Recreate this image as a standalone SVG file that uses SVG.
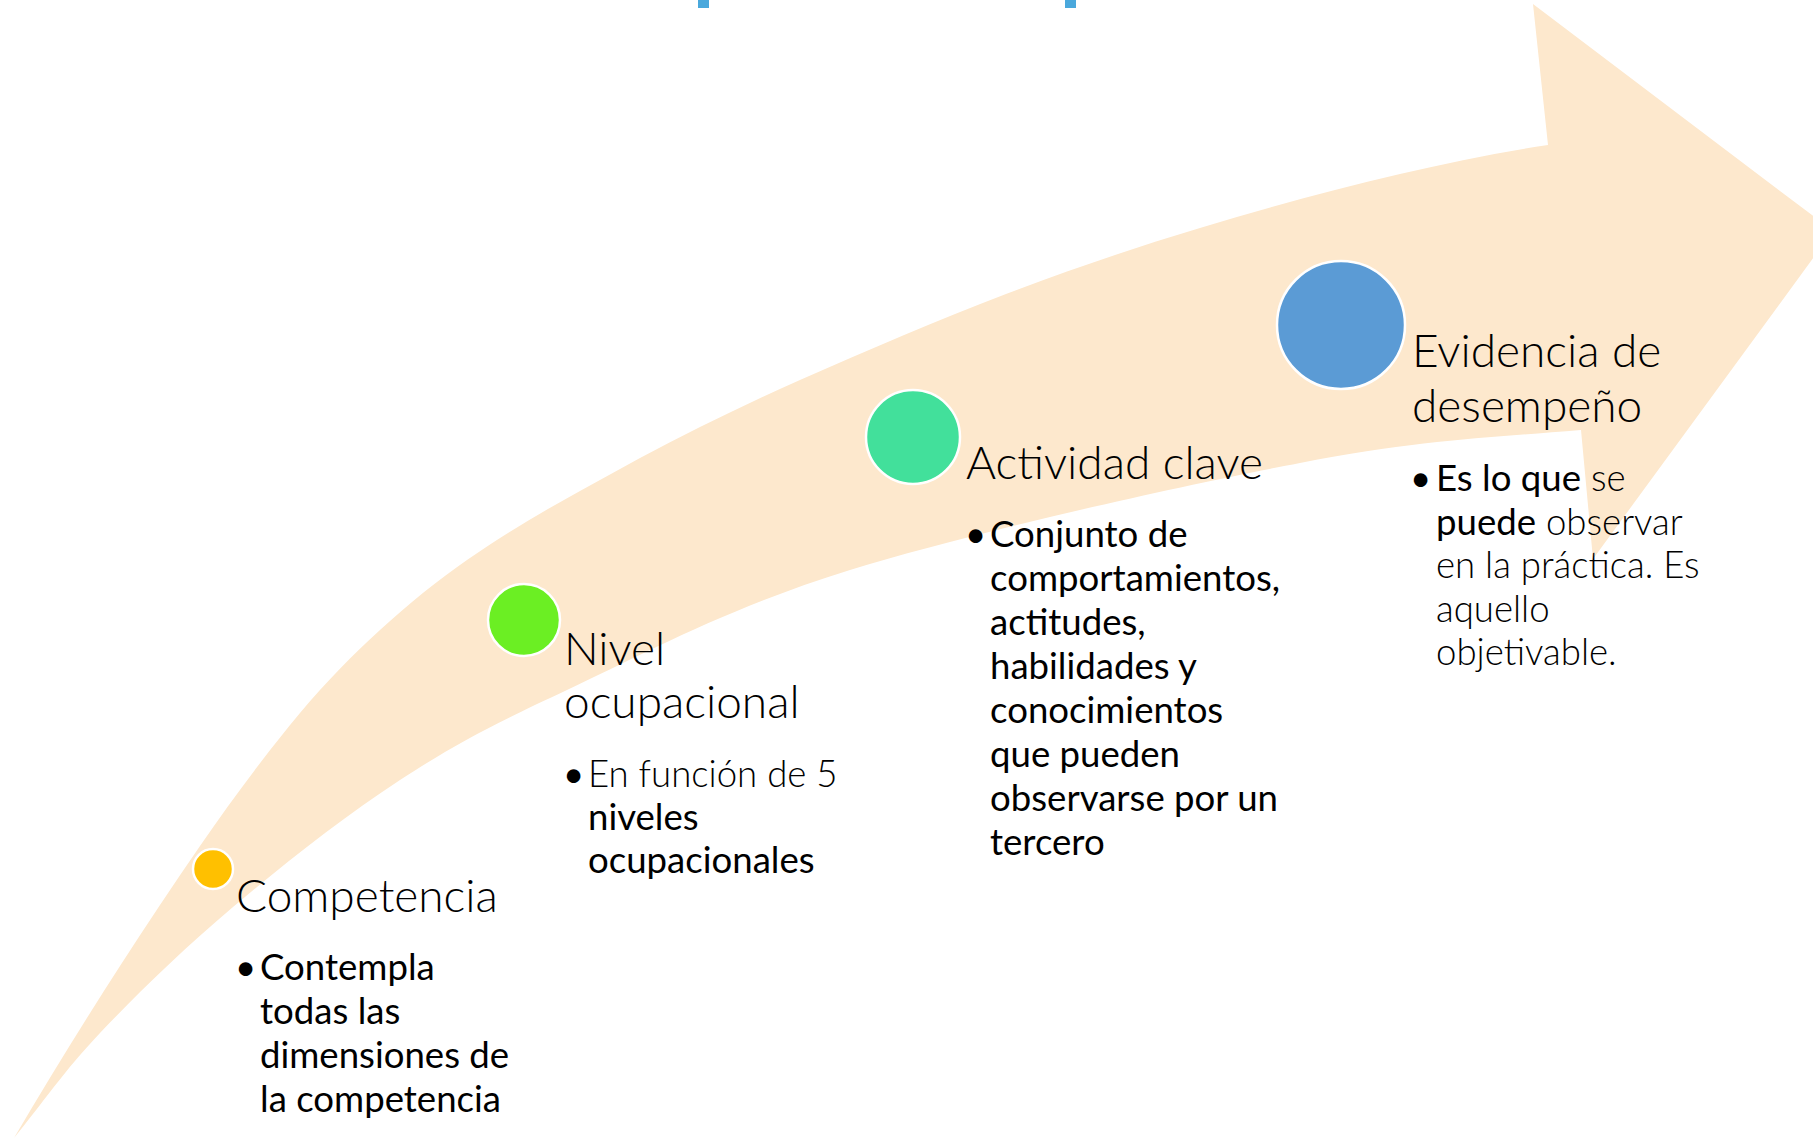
<svg xmlns="http://www.w3.org/2000/svg" width="1813" height="1138" viewBox="0 0 1813 1138">
<style>
  .title{font-family:Lato,"Liberation Sans",sans-serif;font-weight:300;font-size:46px;fill:#000}
  .body{font-family:Lato,"Liberation Sans",sans-serif;font-weight:400;font-size:36.6px;fill:#000}
  .lt{font-weight:300}
  .dot{stroke:#fff;stroke-width:2.5}
</style>
<rect width="1813" height="1138" fill="#fff"/>
<g id="top-marks" fill="#4AA8DC">
  <rect x="698" y="0" width="11" height="8"/>
  <rect x="1065" y="0" width="11" height="8"/>
</g>
<g id="connectors">
  <path id="arrow" fill="#FDE8CD" d="M14,1138 C49.3,1077.9 84.7,1020.8 120,966 C146.7,924.7 173.3,884.7 200,846 C233.3,797.7 266.7,753 300,713 C326.7,681 353.3,654.5 380,630 C409,603.3 438,580.3 467,560 C504.7,533.6 542.3,511.7 580,491 C620,469 660,446.6 700,427 C733.3,410.7 766.7,394.7 800,380 C868.7,349.8 937.3,320.1 1006,294 C1070.7,269.4 1135.3,247.4 1200,228 C1266.7,208 1333.3,189.3 1400,174 C1449.3,162.7 1498.7,152.4 1548,145 L1533,4 L1833,231 L1593,559 L1581,430 C1487,438 1421.8,439.7 1300,463 C1178.2,486.3 972.2,532.2 850,570 C727.8,607.8 642,655 567,690 C492,725 455.7,743.8 400,780 C344.3,816.2 283,864.8 233,907 C183,949.2 136.5,994.5 100,1033 C63.5,1071.5 42.7,1103 14,1138 Z"/>
</g>
<g id="node-competencia">
  <circle class="dot" cx="213" cy="869" r="20" fill="#FFC000"/>
  <text class="title" x="236" y="912">Competencia</text>
  <text class="body" x="235" y="980">•</text>
  <text class="body" x="260" y="980">Contempla</text>
  <text class="body" x="260" y="1024">todas las</text>
  <text class="body" x="260" y="1068">dimensiones de</text>
  <text class="body" x="260" y="1112">la competencia</text>
</g>
<g id="node-nivel">
  <circle class="dot" cx="524" cy="620" r="36" fill="#6BEF23"/>
  <text class="title" x="564" y="665">Nivel</text>
  <text class="title" x="564" y="718">ocupacional</text>
  <text class="body" x="563" y="787">•</text>
  <text class="body lt" x="588" y="787">En función de 5</text>
  <text class="body" x="588" y="830">niveles</text>
  <text class="body" x="588" y="873">ocupacionales</text>
</g>
<g id="node-actividad">
  <circle class="dot" cx="913" cy="437" r="47" fill="#42E09B"/>
  <text class="title" x="966" y="479">Actividad clave</text>
  <text class="body" x="965" y="547">•</text>
  <text class="body" x="990" y="547">Conjunto de</text>
  <text class="body" x="990" y="591">comportamientos,</text>
  <text class="body" x="990" y="635">actitudes,</text>
  <text class="body" x="990" y="679">habilidades y</text>
  <text class="body" x="990" y="723">conocimientos</text>
  <text class="body" x="990" y="767">que pueden</text>
  <text class="body" x="990" y="811">observarse por un</text>
  <text class="body" x="990" y="855">tercero</text>
</g>
<g id="node-evidencia">
  <circle class="dot" cx="1341" cy="325" r="64" fill="#5B9BD5"/>
  <text class="title" x="1412" y="367">Evidencia de</text>
  <text class="title" x="1412" y="422">desempeño</text>
  <text class="body" x="1410" y="491">•</text>
  <text class="body" x="1436" y="491">Es lo que<tspan class="lt"> se</tspan></text>
  <text class="body" x="1436" y="535">puede<tspan class="lt"> observar</tspan></text>
  <text class="body lt" x="1436" y="578">en la práctica. Es</text>
  <text class="body lt" x="1436" y="622">aquello</text>
  <text class="body lt" x="1436" y="665">objetivable.</text>
</g>
</svg>
